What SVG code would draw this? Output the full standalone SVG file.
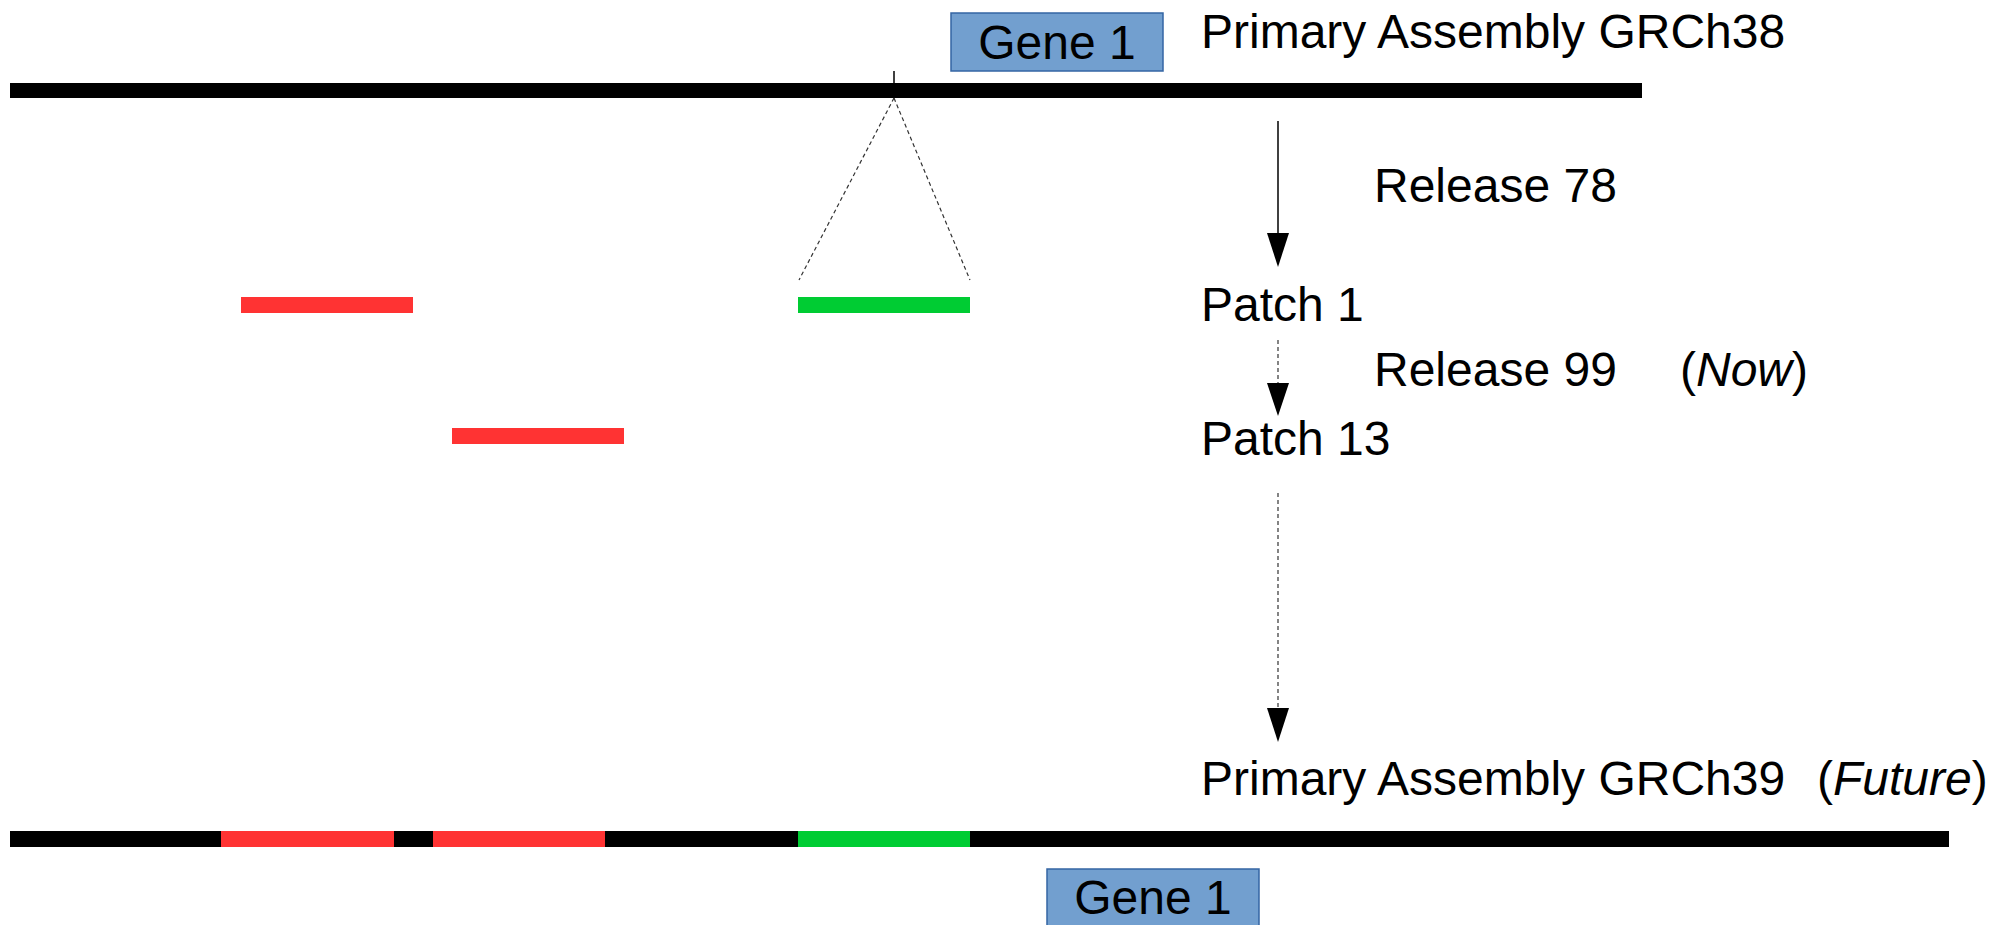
<svg xmlns="http://www.w3.org/2000/svg" width="1996" height="925" viewBox="0 0 1996 925">
  <style>
    text { font-family: "Liberation Sans", Arial, sans-serif; font-size: 48px; fill: #000; }
    .gene { fill: #729fcf; stroke: #3465a4; stroke-width: 1.5; }
    .chrom { fill: #000; }
    .red { fill: #ff3333; }
    .green { fill: #00cc33; }
    .solid { stroke: #000; stroke-width: 1.5; fill: none; }
    .dash { stroke: #333; stroke-width: 1.2; fill: none; stroke-dasharray: 4 3; }
    .head { fill: #000; }
  </style>

  <!-- GRCh38 chromosome and annotated gene -->
  <g id="grch38">
    <rect class="chrom" x="10" y="83" width="1632" height="15"/>
    <text x="1201" y="48">Primary Assembly GRCh38</text>
  </g>
  <g id="gene-top">
    <rect class="gene" x="951" y="13" width="212" height="58"/>
    <text x="1057" y="59" text-anchor="middle">Gene 1</text>
  </g>

  <!-- patch segments -->
  <g id="patch-fix-1"><rect class="red" x="241" y="297" width="172" height="16"/></g>
  <g id="patch-novel"><rect class="green" x="798" y="297" width="172" height="16"/></g>
  <g id="patch-fix-2"><rect class="red" x="452" y="428" width="172" height="16"/></g>

  <!-- release labels -->
  <g id="labels">
    <text x="1374" y="202">Release 78</text>
    <text x="1201" y="321">Patch 1</text>
    <text x="1374" y="386">Release 99</text>
    <text x="1680" y="386">(<tspan font-style="italic">Now</tspan>)</text>
    <text x="1201" y="455">Patch 13</text>
    <text x="1201" y="795">Primary Assembly GRCh39</text>
    <text x="1817" y="795">(<tspan font-style="italic">Future</tspan>)</text>
  </g>

  <!-- GRCh39 chromosome with incorporated patches -->
  <g id="grch39">
    <rect class="chrom" x="10" y="831" width="1939" height="16"/>
    <rect class="red" x="221" y="831" width="173" height="16"/>
    <rect class="red" x="433" y="831" width="172" height="16"/>
    <rect class="green" x="798" y="831" width="172" height="16"/>
  </g>
  <g id="gene-bottom">
    <rect class="gene" x="1047" y="869" width="212" height="70"/>
    <text x="1153" y="914" text-anchor="middle">Gene 1</text>
  </g>

  <!-- connectors -->
  <g id="connectors">
    <line class="solid" x1="894" y1="71" x2="894" y2="84"/>
    <line class="dash" x1="894" y1="98" x2="799" y2="280"/>
    <line class="dash" x1="894" y1="98" x2="970" y2="280"/>

    <line class="solid" x1="1278" y1="121" x2="1278" y2="234"/>
    <polygon class="head" points="1267,233 1289,233 1278,267"/>

    <line class="dash" x1="1278" y1="340" x2="1278" y2="384"/>
    <polygon class="head" points="1267,383 1289,383 1278,416"/>

    <line class="dash" x1="1278" y1="493" x2="1278" y2="709"/>
    <polygon class="head" points="1267,708 1289,708 1278,742"/>
  </g>
</svg>
